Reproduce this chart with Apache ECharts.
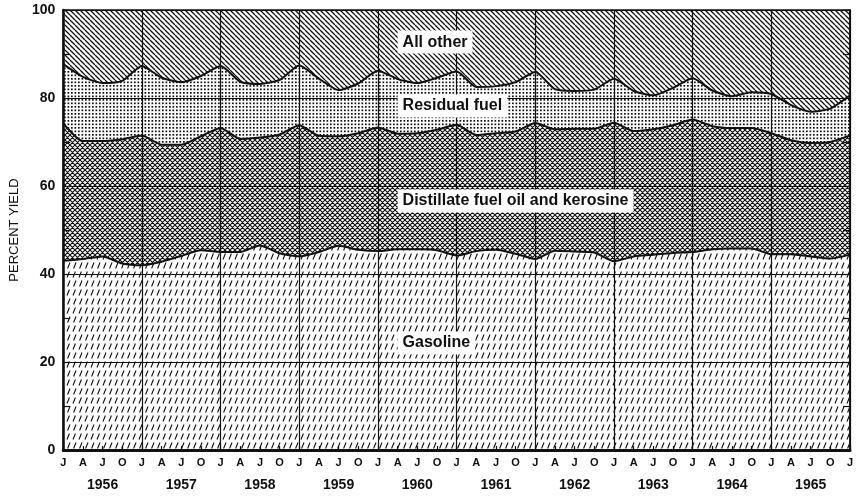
<!DOCTYPE html>
<html>
<head>
<meta charset="utf-8">
<script src="https://cdn.jsdelivr.net/npm/echarts@6/dist/echarts.min.js"></script>
<style>
  html, body { margin: 0; padding: 0; background: #fff; }
  #chart { width: 861px; height: 497px; }
</style>
</head>
<body>
<div id="chart"></div>
<script>
// Quarterly refinery yields, percent of crude run, 1956 through January 1966
const years = ['1956', '1957', '1958', '1959', '1960', '1961', '1962', '1963', '1964', '1965'];

const quarters = [
  '1956-01', '1956-04', '1956-07', '1956-10',
  '1957-01', '1957-04', '1957-07', '1957-10',
  '1958-01', '1958-04', '1958-07', '1958-10',
  '1959-01', '1959-04', '1959-07', '1959-10',
  '1960-01', '1960-04', '1960-07', '1960-10',
  '1961-01', '1961-04', '1961-07', '1961-10',
  '1962-01', '1962-04', '1962-07', '1962-10',
  '1963-01', '1963-04', '1963-07', '1963-10',
  '1964-01', '1964-04', '1964-07', '1964-10',
  '1965-01', '1965-04', '1965-07', '1965-10',
  '1966-01'
];

const quarterLetters = [
  'J', 'A', 'J', 'O', 'J', 'A', 'J', 'O', 'J', 'A', 'J', 'O', 'J', 'A', 'J', 'O',
  'J', 'A', 'J', 'O', 'J', 'A', 'J', 'O', 'J', 'A', 'J', 'O', 'J', 'A', 'J', 'O',
  'J', 'A', 'J', 'O', 'J', 'A', 'J', 'O', 'J'
];

const gasoline = [
  43.0, 43.4, 44.0, 42.4,
  42.0, 42.8, 44.1, 45.4,
  45.0, 45.0, 46.5, 44.7,
  44.0, 45.0, 46.4, 45.5,
  45.2, 45.6, 45.6, 45.4,
  44.2, 45.2, 45.5, 44.6,
  43.4, 45.3, 45.1, 44.9,
  42.9, 44.0, 44.4, 44.8,
  45.0, 45.6, 45.8, 45.8,
  44.5, 44.5, 44.0, 43.5,
  44.4
];

const distillate = [
  31.2, 26.8, 26.2, 28.2,
  29.5, 26.6, 25.3, 25.9,
  28.2, 25.7, 24.5, 27.0,
  29.8, 26.4, 24.9, 26.5,
  28.1, 26.3, 26.4, 27.4,
  29.7, 26.4, 26.5, 27.8,
  30.9, 27.6, 27.9, 28.1,
  31.5, 28.5, 28.5, 29.0,
  30.1, 28.0, 27.4, 27.4,
  27.5, 25.9, 25.8, 26.5,
  27.1
];

const residual = [
  13.5, 14.6, 13.2, 13.3,
  15.8, 15.2, 14.2, 13.7,
  14.1, 13.0, 12.2, 12.4,
  13.6, 13.0, 10.5, 11.3,
  12.9, 12.4, 11.4, 11.8,
  12.1, 10.9, 10.7, 11.2,
  11.6, 9.1, 8.6, 8.9,
  10.0, 9.1, 7.7, 8.5,
  9.4, 8.1, 7.2, 8.1,
  8.9, 8.0, 7.1, 7.6,
  9.1
];

const allOther = [
  12.3, 15.2, 16.6, 16.1,
  12.7, 15.4, 16.4, 15.0,
  12.7, 16.3, 16.8, 15.9,
  12.6, 15.6, 18.2, 16.7,
  13.8, 15.7, 16.6, 15.4,
  14.0, 17.5, 17.3, 16.4,
  14.1, 18.0, 18.4, 18.1,
  15.6, 18.4, 19.4, 17.7,
  15.5, 18.3, 19.6, 18.7,
  19.1, 21.6, 23.1, 22.4,
  19.4
];

const FONT = '"Liberation Sans", Arial, sans-serif';
const INK = '#111';

// ---- fill patterns (black strokes on transparent tiles) ----
function tile(w, h, draw) {
  const c = document.createElement('canvas');
  c.width = w; c.height = h;
  const g = c.getContext('2d');
  g.strokeStyle = INK; g.fillStyle = INK;
  draw(g, w, h);
  return { image: c, repeat: 'repeat' };
}

// "\" diagonal hatching
const patOther = tile(5, 5, (g, w) => {
  g.lineWidth = 1.3;
  g.beginPath();
  for (const k of [-w, 0, w]) { g.moveTo(k, 0); g.lineTo(k + w, w); }
  g.stroke();
});

// fine dot screen
const patResidual = tile(7, 7, (g) => {
  for (const [x, y] of [[1, 1], [4.5, 1], [1, 4.5], [4.5, 4.5]]) {
    g.fillRect(x, y, 1.7, 1.7);
  }
});

// dense cross-hatching
const patDistillate = tile(5, 5, (g, w) => {
  g.lineWidth = 1.15;
  g.beginPath();
  for (const k of [-w, 0, w]) {
    g.moveTo(k, 0); g.lineTo(k + w, w);
    g.moveTo(k, w); g.lineTo(k + w, 0);
  }
  g.stroke();
});

// staggered short slanted dashes
const patGasoline = tile(12, 18, (g) => {
  g.lineWidth = 1.1;
  g.beginPath();
  const dash = (x, y) => { g.moveTo(x, y + 6); g.lineTo(x + 2.4, y); };
  for (const x of [-6, 0, 6, 12]) {
    dash(x + 1, 1.5);
    dash(x + 1.6, 10.5);
  }
  g.stroke();
});

const chart = echarts.init(document.getElementById('chart'), null, { renderer: 'canvas' });

function areaSeries(name, data, pattern, lineWidth) {
  return {
    name: name,
    type: 'line',
    stack: 'yield',
    data: data,
    symbol: 'none',
    smooth: 0.2,
    lineStyle: { color: INK, width: lineWidth },
    areaStyle: { color: pattern, opacity: 1 },
    emphasis: { disabled: true },
    silent: true
  };
}

chart.setOption({
  backgroundColor: '#fff',
  animation: false,
  grid: {
    left: 55, right: 11, top: 10, bottom: 47,
    show: true, borderColor: INK, borderWidth: 1.5, backgroundColor: 'transparent'
  },
  xAxis: [
    {
      type: 'category',
      data: quarters,
      boundaryGap: false,
      axisLine: { show: true, lineStyle: { color: INK, width: 3 } },
      axisTick: { show: true, inside: true, length: 4, lineStyle: { color: INK, width: 1.2 } },
      axisLabel: {
        interval: 0, margin: 7,
        formatter: (v, i) => quarterLetters[i],
        color: INK, fontFamily: FONT, fontWeight: 'bold', fontSize: 11
      },
      splitLine: {
        show: true,
        interval: (i) => i % 4 === 0,
        lineStyle: { color: INK, width: 1.2 }
      }
    },
    {
      type: 'category',
      data: years,
      position: 'bottom',
      boundaryGap: true,
      axisLine: { show: false },
      axisTick: { show: false },
      splitLine: { show: false },
      axisLabel: {
        interval: 0, margin: 28,
        color: INK, fontFamily: FONT, fontWeight: 'bold', fontSize: 14
      }
    }
  ],
  yAxis: [
    {
      type: 'value',
      min: 0, max: 100, interval: 20,
      name: 'PERCENT YIELD',
      nameLocation: 'middle',
      nameGap: 40,
      nameRotate: 90,
      nameTextStyle: { color: INK, fontFamily: FONT, fontSize: 13 },
      axisLine: { show: true, lineStyle: { color: INK, width: 2.5 } },
      axisTick: { show: true, inside: true, length: 7, lineStyle: { color: INK, width: 1.2 } },
      minorTick: { show: true, splitNumber: 2, length: 7, lineStyle: { color: INK, width: 1.2 } },
      axisLabel: { margin: 8, color: INK, fontFamily: FONT, fontWeight: 'bold', fontSize: 14 },
      splitLine: { show: true, lineStyle: { color: INK, width: 1 } }
    },
    {
      type: 'value',
      min: 0, max: 100, interval: 20,
      position: 'right',
      axisLine: { show: true, lineStyle: { color: INK, width: 1.5 } },
      axisTick: { show: true, inside: true, length: 7, lineStyle: { color: INK, width: 1.2 } },
      minorTick: { show: true, splitNumber: 2, length: 7, lineStyle: { color: INK, width: 1.2 } },
      axisLabel: { show: false },
      splitLine: { show: false }
    }
  ],
  series: [
    areaSeries('Gasoline', gasoline, patGasoline, 2),
    areaSeries('Distillate fuel oil and kerosine', distillate, patDistillate, 2),
    areaSeries('Residual fuel', residual, patResidual, 2),
    areaSeries('All other', allOther, patOther, 0)
  ]
});

// Boxed area names, anchored in data space (quarter index, percent)
const areaNames = [
  { text: 'All other', at: [17.15, 92.7] },
  { text: 'Residual fuel', at: [17.15, 78.2] },
  { text: 'Distillate fuel oil and kerosine', at: [17.15, 56.6] },
  { text: 'Gasoline', at: [17.15, 24.3] }
];

chart.setOption({
  graphic: areaNames.map((n) => {
    const p = chart.convertToPixel({ xAxisIndex: 0, yAxisIndex: 0 }, n.at);
    return {
      type: 'text',
      x: p[0], y: p[1], z: 100,
      style: {
        text: n.text,
        fill: INK,
        font: 'bold 16px ' + FONT,
        textAlign: 'left',
        textVerticalAlign: 'middle',
        backgroundColor: '#fff',
        padding: [4, 5, 3, 5]
      }
    };
  })
});
</script>
</body>
</html>
